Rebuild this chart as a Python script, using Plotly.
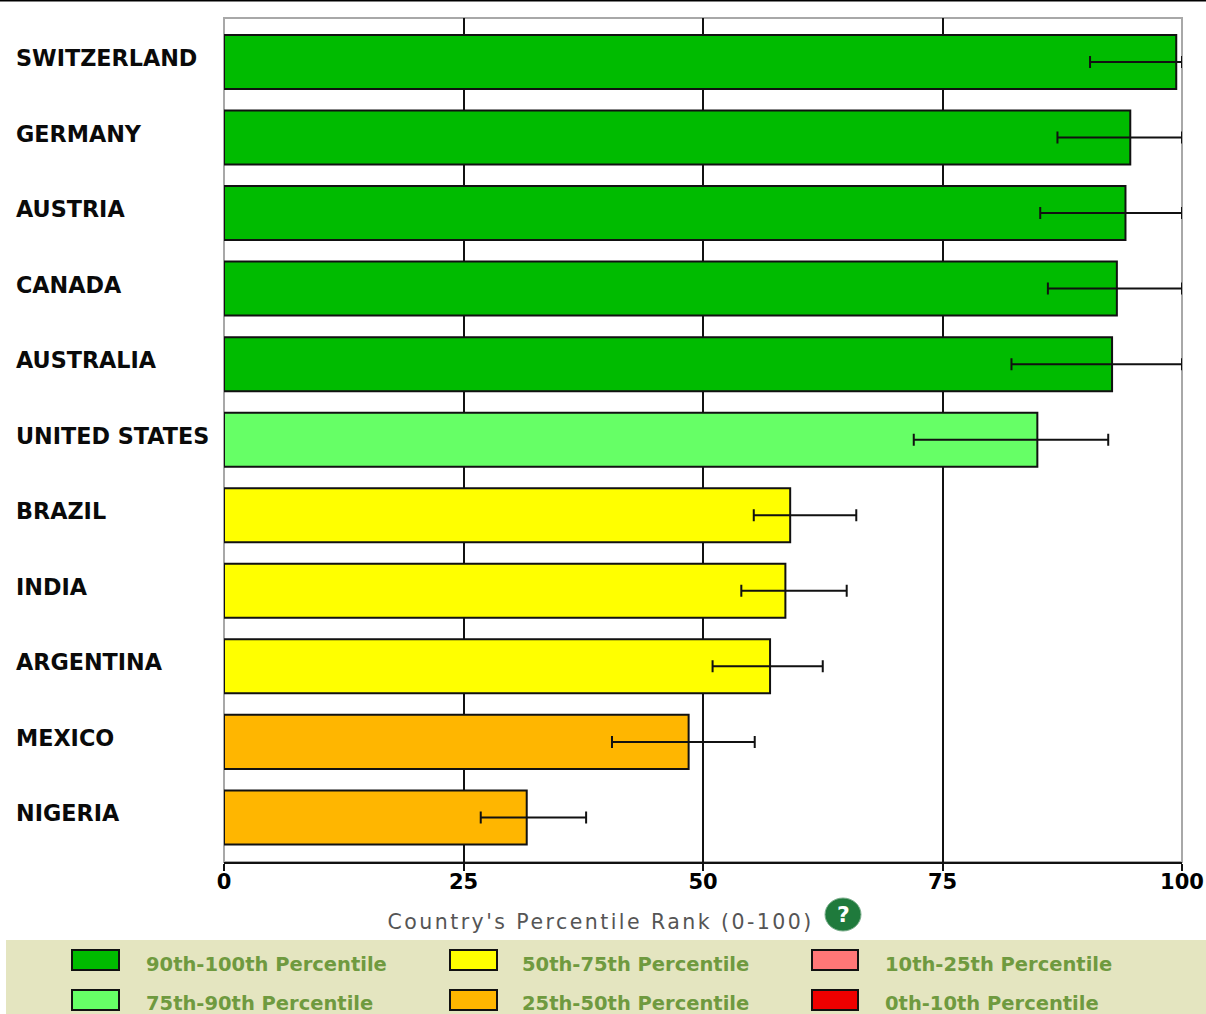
import plotly.graph_objects as go

countries = ["SWITZERLAND", "GERMANY", "AUSTRIA", "CANADA", "AUSTRALIA", "UNITED STATES",
             "BRAZIL", "INDIA", "ARGENTINA", "MEXICO", "NIGERIA"]
rank = [99.4, 94.6, 94.1, 93.2, 92.7, 84.9, 59.1, 58.6, 57.0, 48.5, 31.6]
low = [90.4, 87.0, 85.2, 86.0, 82.2, 72.0, 55.3, 54.0, 51.0, 40.5, 26.8]
high = [100, 100, 100, 100, 100, 92.3, 66.0, 65.0, 62.5, 55.4, 37.8]
band = ["g", "g", "g", "g", "g", "l", "y", "y", "y", "o", "o"]
band_colors = {"g": "#00BB00", "l": "#66FF66", "y": "#FFFF00", "o": "#FFB600"}
x_ticks = [0, 25, 50, 75, 100]
x_title = "Country's Percentile Rank (0-100)"
legend_labels = ["90th-100th Percentile", "75th-90th Percentile", "50th-75th Percentile",
                 "25th-50th Percentile", "10th-25th Percentile", "0th-10th Percentile"]
legend_colors = ["#00BB00", "#66FF66", "#FFFF00", "#FFB600", "#FF7777", "#EE0000"]

W, H = 1216, 1014
L, R, T, B = 224, 1182, 18, 862
px = lambda v: (v - L) / (R - L)
py = lambda v: (B - v) / (B - T)

fig = go.Figure(go.Bar(
    y=countries, x=rank, orientation="h", width=0.715,
    marker=dict(color=[band_colors[b] for b in band], line=dict(color="#111111", width=2)),
    error_x=dict(type="data", symmetric=False,
                 array=[h - r for h, r in zip(high, rank)],
                 arrayminus=[r - l for r, l in zip(rank, low)],
                 color="#111111", thickness=2, width=6),
    cliponaxis=False, hoverinfo="skip"))

shapes = [
    dict(type="rect", xref="paper", yref="paper", x0=0, x1=1, y0=0, y1=1, layer="below",
         line=dict(color="#A8A8A8", width=2)),
    dict(type="line", xref="paper", yref="paper", x0=px(0), x1=px(W), y0=py(0.5), y1=py(0.5),
         line=dict(color="#000000", width=2)),
    dict(type="rect", xref="paper", yref="paper", x0=px(6), x1=px(W), y0=py(940), y1=py(H),
         fillcolor="#E4E5C0", line=dict(width=0), layer="below"),
    dict(type="circle", xref="paper", yref="paper", x0=px(825), x1=px(861), y0=py(898), y1=py(931),
         fillcolor="#1F7A3C", line=dict(color="#7FB08F", width=1)),
]
annotations = [
    dict(text=c, xref="paper", yref="y", x=px(14), y=c, xanchor="left", yanchor="middle", yshift=4,
         showarrow=False,
         font=dict(family="DejaVu Sans", size=22.3, color="#0A0A0A", weight="bold"))
    for c in countries
]
title_index = len(annotations)
annotations.append(dict(text=x_title, xref="paper", yref="paper", x=px(600), y=py(922),
                        xanchor="center", yanchor="middle", showarrow=False,
                        font=dict(family="DejaVu Sans", size=20.5, color="#555555")))
annotations.append(dict(text="?", xref="paper", yref="paper", x=px(843), y=py(914),
                        xanchor="center", yanchor="middle", showarrow=False,
                        font=dict(family="DejaVu Sans", size=22, color="#FFFFFF", weight="bold")))

col_x = [(72, 119, 144), (450, 497, 520), (812, 858, 883)]
for i, (label, color) in enumerate(zip(legend_labels, legend_colors)):
    x0, x1, tx = col_x[i // 2]
    row = i % 2
    y0 = 950 + row * 40
    shapes.append(dict(type="rect", xref="paper", yref="paper", x0=px(x0), x1=px(x1),
                       y0=py(y0), y1=py(y0 + 20), fillcolor=color,
                       line=dict(color="#111111", width=2)))
    annotations.append(dict(text=label, xref="paper", yref="paper", x=px(tx), y=py(y0 + 14),
                            xanchor="left", yanchor="middle", showarrow=False,
                            font=dict(family="DejaVu Sans", size=19.5, color="#6F9A3F", weight="bold")))

fig.update_layout(
    width=W, height=H, autosize=False,
    margin=dict(l=L, r=W - R, t=T, b=H - B, pad=0),
    paper_bgcolor="#FFFFFF", plot_bgcolor="#FFFFFF", showlegend=False,
    shapes=shapes, annotations=annotations,
    xaxis=dict(range=[0, 100], tickvals=x_ticks, ticks="outside", ticklen=7, tickwidth=2,
               tickcolor="#111111", showline=True, linecolor="#111111", linewidth=2,
               showgrid=True, gridcolor="#111111", gridwidth=2, zeroline=False,
               ticklabelstandoff=-7,
               tickfont=dict(family="DejaVu Sans", size=21, color="#000000", weight="bold")),
    yaxis=dict(type="category", categoryorder="array", categoryarray=countries,
               range=[10.59, -0.582], showticklabels=False, ticks="", showgrid=False,
               zeroline=False, showline=False),
)
css = (".annotation[data-index='%d'] text{letter-spacing:2.45px}" % title_index)
post = ("var s=document.createElement('style');s.textContent=\"" + css + "\";document.head.appendChild(s);"
        "document.body.style.margin='0';document.documentElement.style.overflow='hidden';")
fig.write_html("out.html", post_script=post, default_width=f"{W}px", default_height=f"{H}px",
               config=dict(displayModeBar=False, responsive=False))
